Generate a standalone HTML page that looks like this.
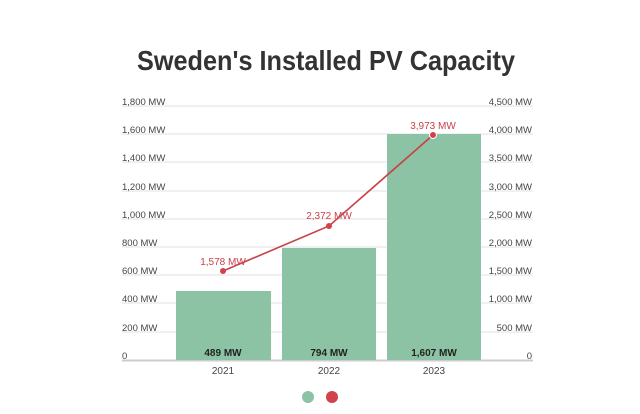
<!DOCTYPE html>
<html><head><style>
body{margin:0;background:#fff;}
svg text{font-family:"Liberation Sans",sans-serif;}
</style></head><body>
<svg width="640" height="409" xmlns="http://www.w3.org/2000/svg">
<text x="137" y="70" font-size="28" font-weight="bold" fill="#333" textLength="378" lengthAdjust="spacingAndGlyphs">Sweden's Installed PV Capacity</text>
<g stroke="#e2e2e2" stroke-width="1">
<line x1="122" x2="533" y1="106" y2="106"/><line x1="122" x2="533" y1="134" y2="134"/>
<line x1="122" x2="533" y1="162" y2="162"/><line x1="122" x2="533" y1="191" y2="191"/>
<line x1="122" x2="533" y1="219" y2="219"/><line x1="122" x2="533" y1="247" y2="247"/>
<line x1="122" x2="533" y1="275" y2="275"/><line x1="122" x2="533" y1="303" y2="303"/>
<line x1="122" x2="533" y1="332" y2="332"/>
</g>
<line x1="122" x2="533" y1="360.5" y2="360.5" stroke="#ccc" stroke-width="2"/>
<g font-size="9.5" fill="#444">
<text x="122" y="105">1,800 MW</text><text x="122" y="133">1,600 MW</text>
<text x="122" y="161">1,400 MW</text><text x="122" y="190">1,200 MW</text>
<text x="122" y="218">1,000 MW</text><text x="122" y="246">800 MW</text>
<text x="122" y="274">600 MW</text><text x="122" y="302">400 MW</text>
<text x="122" y="331">200 MW</text><text x="122" y="359">0</text>
</g>
<g font-size="9.5" fill="#444" text-anchor="end">
<text x="532" y="105">4,500 MW</text><text x="532" y="133">4,000 MW</text>
<text x="532" y="161">3,500 MW</text><text x="532" y="190">3,000 MW</text>
<text x="532" y="218">2,500 MW</text><text x="532" y="246">2,000 MW</text>
<text x="532" y="274">1,500 MW</text><text x="532" y="302">1,000 MW</text>
<text x="532" y="331">500 MW</text><text x="532" y="359">0</text>
</g>
<g fill="#8cc3a5">
<rect x="176" y="291" width="95" height="69"/>
<rect x="282" y="248" width="94" height="112"/>
<rect x="387" y="134" width="94" height="226"/>
</g>
<g font-size="10" font-weight="bold" fill="#222" text-anchor="middle">
<text x="223" y="356">489 MW</text><text x="329" y="356">794 MW</text><text x="434" y="356">1,607 MW</text>
</g>
<g font-size="10" fill="#444" text-anchor="middle">
<text x="223" y="374">2021</text><text x="329" y="374">2022</text><text x="434" y="374">2023</text>
</g>
<polyline points="223,271 329,226 433,135" fill="none" stroke="#c9404a" stroke-width="1.6"/>
<circle cx="223" cy="271" r="3" fill="#d0424c"/>
<circle cx="329" cy="226" r="3" fill="#d0424c"/>
<circle cx="433" cy="135" r="3.5" fill="#d0424c" stroke="#fff" stroke-width="1"/>
<g font-size="10" fill="#c9404a" text-anchor="middle">
<text x="223" y="265">1,578 MW</text><text x="329" y="219">2,372 MW</text><text x="433" y="129">3,973 MW</text>
</g>
<circle cx="308" cy="397" r="6" fill="#8cc3a5"/>
<circle cx="332" cy="397" r="6" fill="#d0424c"/>
</svg>
</body></html>
